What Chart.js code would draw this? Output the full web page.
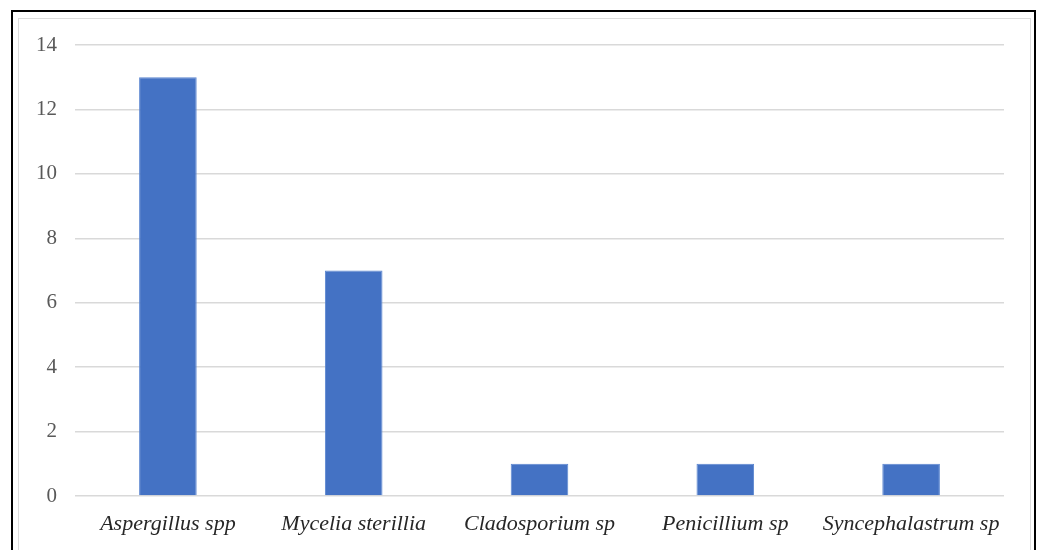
<!DOCTYPE html>
<html>
<head>
<meta charset="utf-8">
<script src="https://cdn.jsdelivr.net/npm/chart.js@4"></script>
<style>
  html, body { margin: 0; padding: 0; background: #fff; }
  #wrap { position: relative; width: 1043px; height: 550px; overflow: hidden; }
  #outer { position: absolute; left: 11px; top: 10px; width: 1021px; height: 560px; border: 2px solid #000; }
  #inner { position: absolute; left: 18px; top: 18px; width: 1011px; height: 560px; border: 1px solid #dcdcdc; }
  canvas { position: absolute; left: 0; top: 0; }
</style>
</head>
<body>
<div id="wrap">
  <div id="outer"></div>
  <div id="inner"></div>
  <canvas id="grafico" width="1043" height="550"></canvas>
</div>
<script>
// dados do gráfico
const categorias = ['Aspergillus spp', 'Mycelia sterillia', 'Cladosporium sp', 'Penicillium sp', 'Syncephalastrum sp'];
const valores = [13, 7, 1, 1, 1];
const ticksY = [0, 2, 4, 6, 8, 10, 12, 14];

document.addEventListener('DOMContentLoaded', function () {
    const ctx = document.getElementById('grafico').getContext('2d');
    new Chart(ctx, {
        type: 'bar',
        data: {
            labels: categorias,
            datasets: [{
                label: 'Isolados',
                data: valores,
                backgroundColor: '#4472C4',
                borderColor: '#5b86d0',
                borderWidth: 1,
                barPercentage: 0.31,
                categoryPercentage: 1
            }]
        },
        options: {
            responsive: false,
            animation: false,
            layout: { padding: { left: 0, top: 45, right: 39, bottom: 0 } },
            plugins: { legend: { display: false }, tooltip: { enabled: false } },
            scales: {
                x: {
                    grid: { display: false, drawTicks: false },
                    border: { display: false },
                    ticks: {
                        color: '#262626',
                        padding: 15,
                        maxRotation: 0,
                        font: { family: '"Liberation Serif", "DejaVu Serif", serif', size: 22, style: 'italic' }
                    },
                    afterFit: (scale) => { scale.height = 54; }
                },
                y: {
                    min: 0,
                    max: 14,
                    afterBuildTicks: (scale) => { scale.ticks = ticksY.map(v => ({ value: v })); },
                    grid: { color: '#d9d9d9', lineWidth: 1.5, drawTicks: false },
                    border: { display: false },
                    ticks: {
                        color: '#595959',
                        padding: 18,
                        font: { family: '"Liberation Serif", "DejaVu Serif", serif', size: 21 }
                    },
                    afterFit: (scale) => { scale.width = 75; }
                }
            }
        }
    });
});
</script>
</body>
</html>
